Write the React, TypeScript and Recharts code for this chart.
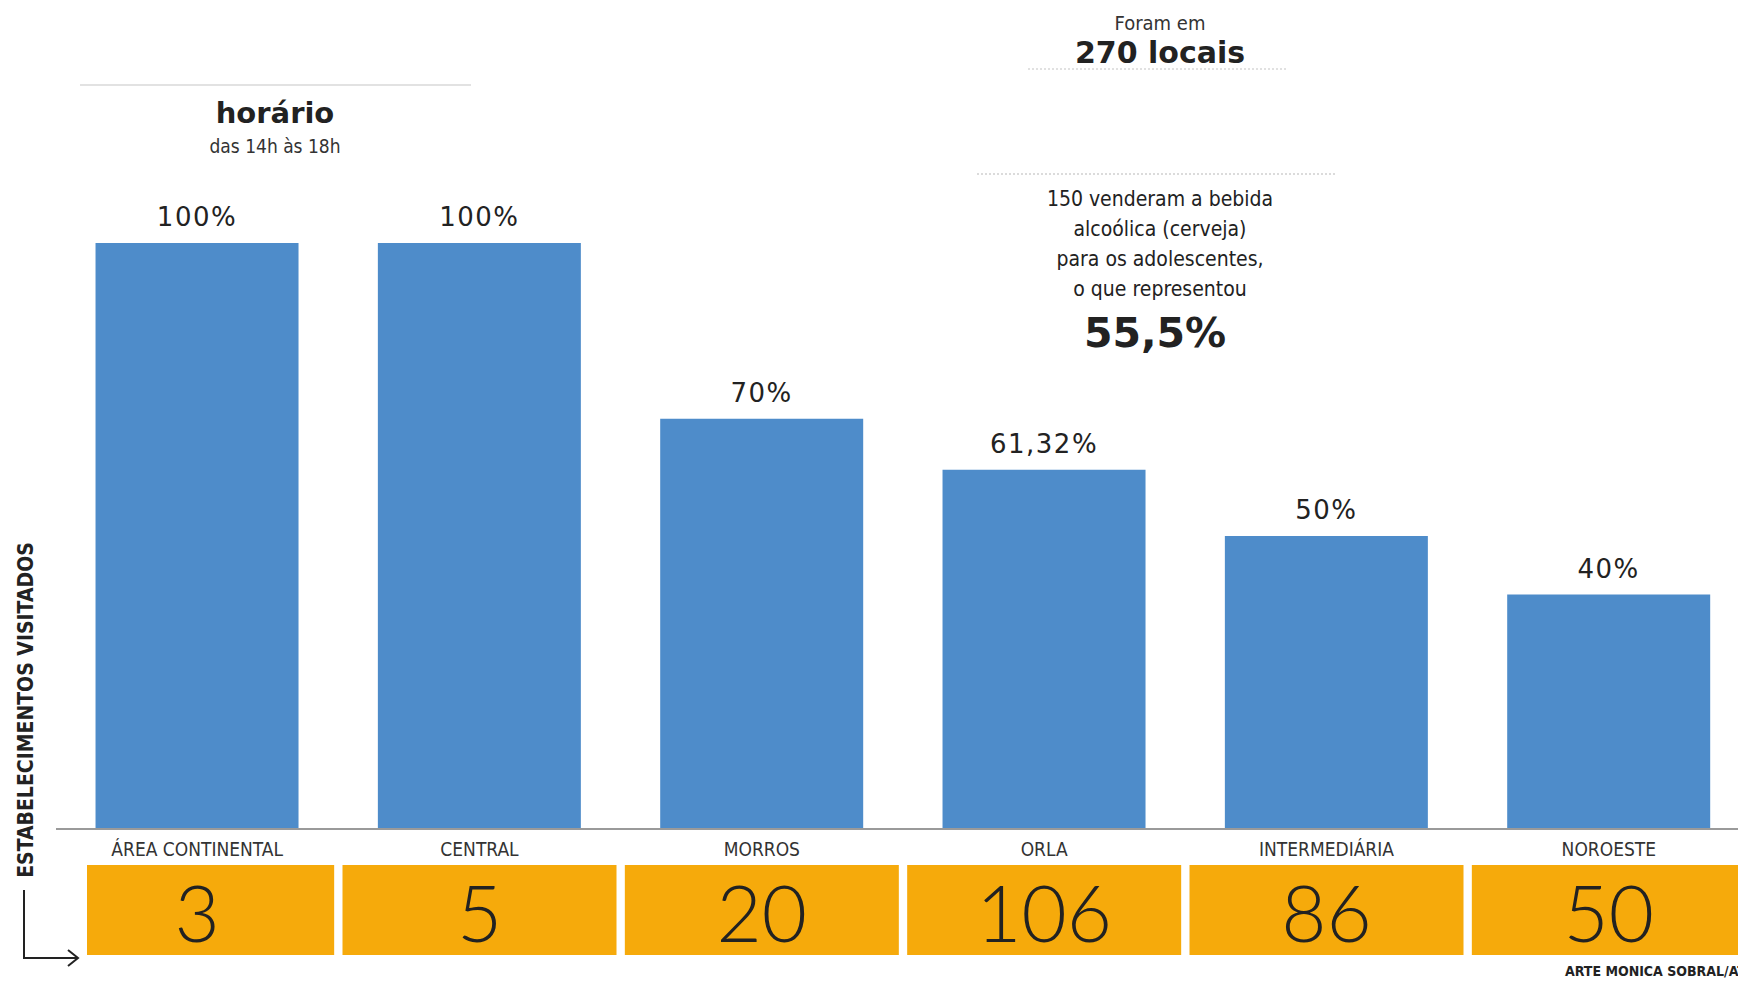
import React from 'react';
import { BarChart, Bar, XAxis, YAxis, LabelList } from 'recharts';

const regions = ['ÁREA CONTINENTAL', 'CENTRAL', 'MORROS', 'ORLA', 'INTERMEDIÁRIA', 'NOROESTE'];
const soldPercent = [100, 100, 70, 61.32, 50, 40];
const visitedCount = [3, 5, 20, 106, 86, 50];
const yTicks = [0, 100];

const data = regions.map((name, i) => ({
    name,
    sold: soldPercent[i],
    visited: visitedCount[i],
}));

const BLUE = '#4E8CCA';
const ORANGE = '#F6AA0B';
const INK = '#222';
const NARROW = "'DejaVu Sans Condensed', 'Liberation Sans Narrow', 'Roboto Condensed', 'DejaVu Sans', sans-serif";

const fmtPct = (v: number) => `${String(v).replace('.', ',')}%`;

const CategoryTick = (props: any) => {
    const { x, y, payload } = props;
    return (
        <text x={x} y={y + 27} textAnchor="middle" fontFamily={NARROW} fontStretch="condensed"
            fontSize={19} fill="#333">
            {payload.value}
        </text>
    );
};

const CountTick = (props: any) => {
    const { x, y, payload, index } = props;
    // the first box is cut short on the left where the arrow sits
    const left = index === 0 ? 87 : x - 137;
    const right = x + 137;
    return (
        <g>
            <rect x={left} y={y} width={right - left} height={90} fill={ORANGE} />
            <text x={x} y={y + 47} textAnchor="middle" dominantBaseline="central"
                fontFamily="Lato, 'Open Sans', sans-serif" fontWeight={300} fontSize={78} fill={INK}>
                {payload.value}
            </text>
        </g>
    );
};

const Notes = () => (
    <svg width={1738} height={981} style={{ position: 'absolute', left: 0, top: 0, pointerEvents: 'none' }}>
        {/* left block */}
        <line x1={80} y1={85} x2={471} y2={85} stroke="#e2e2e2" strokeWidth={2} />
        <text x={275} y={123} textAnchor="middle" fontFamily="'DejaVu Sans', sans-serif" fontWeight="bold"
            fontSize={29} fill={INK}>horário</text>
        <text x={275} y={153} textAnchor="middle" fontFamily={NARROW} fontStretch="condensed"
            fontSize={19} fill="#333">das 14h às 18h</text>

        {/* top right block */}
        <text x={1160} y={30} textAnchor="middle" fontFamily={NARROW} fontStretch="condensed"
            fontSize={20} fill="#333">Foram em</text>
        <text x={1160} y={63} textAnchor="middle" fontFamily="'DejaVu Sans', sans-serif" fontWeight="bold"
            fontSize={30} fill={INK}>270 locais</text>
        <line x1={1028} y1={69} x2={1288} y2={69} stroke="#d8d8d8" strokeWidth={1.5} strokeDasharray="2 2" />
        <line x1={977} y1={174} x2={1337} y2={174} stroke="#d0d0d0" strokeWidth={1.5} strokeDasharray="2 2" />
        {['150 venderam a bebida', 'alcoólica (cerveja)', 'para os adolescentes,', 'o que representou'].map((t, i) => (
            <text key={t} x={1160} y={206 + i * 30} textAnchor="middle" fontFamily={NARROW}
                fontStretch="condensed" fontSize={21} fill={INK}>{t}</text>
        ))}
        <text x={1155} y={347} textAnchor="middle" fontFamily="'DejaVu Sans', sans-serif" fontWeight="bold"
            fontSize={41} fill={INK}>55,5%</text>

        {/* vertical axis title + arrow */}
        <text x={26} y={710} transform="rotate(-90 26 710)" textAnchor="middle" dominantBaseline="central"
            fontFamily={NARROW} fontStretch="condensed" fontWeight="bold" fontSize={21} fill={INK}>
            ESTABELECIMENTOS VISITADOS
        </text>
        <path d="M24 890 L24 958 L77 958" fill="none" stroke={INK} strokeWidth={2} />
        <path d="M68 950 L78 958 L68 966" fill="none" stroke={INK} strokeWidth={2} />

        <text x={1565} y={976} fontFamily={NARROW} fontStretch="condensed" fontWeight="bold"
            fontSize={14} fill={INK}>ARTE MONICA SOBRAL/AT</text>
    </svg>
);

const App: React.FC = () => {
    return (
        <div style={{ position: 'absolute', left: 0, top: 0, width: 1738, height: 981, overflow: 'hidden', background: '#fff' }}>
            <BarChart width={1760} height={981} data={data}
                margin={{ top: 243, right: 10, left: 56, bottom: 16 }} barCategoryGap="14%">
                <YAxis hide domain={[0, 100]} ticks={yTicks} />
                <XAxis dataKey="name" interval={0} height={36} tickSize={0} tickMargin={0}
                    axisLine={{ stroke: '#9a9a9a', strokeWidth: 2 }} tickLine={false} tick={<CategoryTick />} />
                <XAxis xAxisId="count" dataKey="visited" interval={0} height={100} tickSize={0} tickMargin={0}
                    axisLine={false} tickLine={false} tick={<CountTick />} />
                <Bar dataKey="sold" fill={BLUE} isAnimationActive={false}>
                    <LabelList dataKey="sold" position="top" offset={17} formatter={(v: any) => fmtPct(Number(v))}
                        fill={INK} fontSize={26} letterSpacing={1.5} fontFamily="'DejaVu Sans', sans-serif" />
                </Bar>
            </BarChart>
            <Notes />
        </div>
    );
};

export default App;
